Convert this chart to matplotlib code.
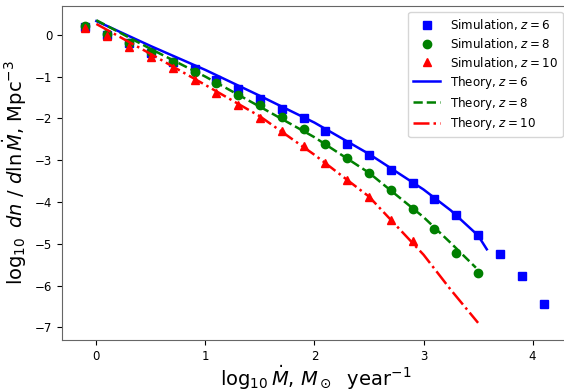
import matplotlib
matplotlib.use("Agg")
import matplotlib.pyplot as plt
import numpy as np

# Simulation data
sim_x6 = [-0.1, 0.1, 0.3, 0.5, 0.7, 0.9, 1.1, 1.3, 1.5, 1.7, 1.9, 2.1, 2.3, 2.5, 2.7, 2.9, 3.1, 3.3, 3.5, 3.7, 3.9, 4.1]
sim_y6 = [0.19, 0.0, -0.2, -0.43, -0.64, -0.82, -1.08, -1.3, -1.54, -1.78, -2.0, -2.3, -2.6, -2.87, -3.24, -3.55, -3.92, -4.3, -4.78, -5.24, -5.77, -6.45]
sim_x8 = [-0.1, 0.1, 0.3, 0.5, 0.7, 0.9, 1.1, 1.3, 1.5, 1.7, 1.9, 2.1, 2.3, 2.5, 2.7, 2.9, 3.1, 3.3, 3.5]
sim_y8 = [0.22, 0.02, -0.2, -0.4, -0.64, -0.88, -1.16, -1.44, -1.67, -1.97, -2.26, -2.6, -2.95, -3.31, -3.71, -4.16, -4.64, -5.22, -5.69]
sim_x10 = [-0.1, 0.1, 0.3, 0.5, 0.7, 0.9, 1.1, 1.3, 1.5, 1.7, 1.9, 2.1, 2.3, 2.5, 2.7, 2.9]
sim_y10 = [0.17, -0.02, -0.3, -0.53, -0.8, -1.08, -1.38, -1.67, -2.0, -2.3, -2.67, -3.07, -3.47, -3.87, -4.44, -4.94]

# Theory curves
th_x6 = [0.0, 0.5, 1.0, 1.5, 2.0, 2.5, 3.0, 3.25, 3.5, 3.58]
th_y6 = [0.33, -0.27, -0.84, -1.46, -2.1, -2.85, -3.7, -4.2, -4.8, -5.13]
th_x8 = [0.0, 0.5, 1.0, 1.5, 2.0, 2.5, 3.0, 3.25, 3.48]
th_y8 = [0.35, -0.34, -1.0, -1.72, -2.45, -3.3, -4.36, -4.98, -5.57]
th_x10 = [0.0, 0.5, 1.0, 1.5, 2.0, 2.5, 3.0, 3.25, 3.5]
th_y10 = [0.26, -0.46, -1.2, -1.95, -2.87, -3.87, -5.26, -6.1, -6.89]

fig = plt.figure(figsize=(5.64, 3.9), dpi=100)
ax = fig.add_axes([62/564, 1-340/390, 506.6/564, 334/390])

ax.plot(sim_x6, sim_y6, 's', color='blue', ms=6, label='Simulation, $z=6$')
ax.plot(sim_x8, sim_y8, 'o', color='green', ms=6, label='Simulation, $z=8$')
ax.plot(sim_x10, sim_y10, '^', color='red', ms=6, label='Simulation, $z=10$')
ax.plot(th_x6, th_y6, '-', color='blue', lw=1.8, label='Theory, $z=6$')
ax.plot(th_x8, th_y8, '--', color='green', lw=1.8, label='Theory, $z=8$')
ax.plot(th_x10, th_y10, '-.', color='red', lw=1.8, label='Theory, $z=10$')

ax.set_xlim(-0.315, 4.33)
ax.set_ylim(-7.3, 0.69)
ax.set_xticks([0, 1, 2, 3, 4])
ax.set_yticks([0, -1, -2, -3, -4, -5, -6, -7])
ax.tick_params(labelsize=8.5)
for s in ax.spines.values():
    s.set_color('#666666')
ax.set_xlabel(r'$\log_{10}\dot{M}$, $M_\odot\ $ year$^{-1}$', fontsize=14, labelpad=0.5)
ax.set_ylabel(r'$\log_{10}\ dn\ /\ d\ln\dot{M}$, Mpc$^{-3}$', fontsize=14)
ax.legend(loc='upper right', fontsize=8.6, labelspacing=0.33, handlelength=2.3)

fig.savefig('out.png', dpi=100)
